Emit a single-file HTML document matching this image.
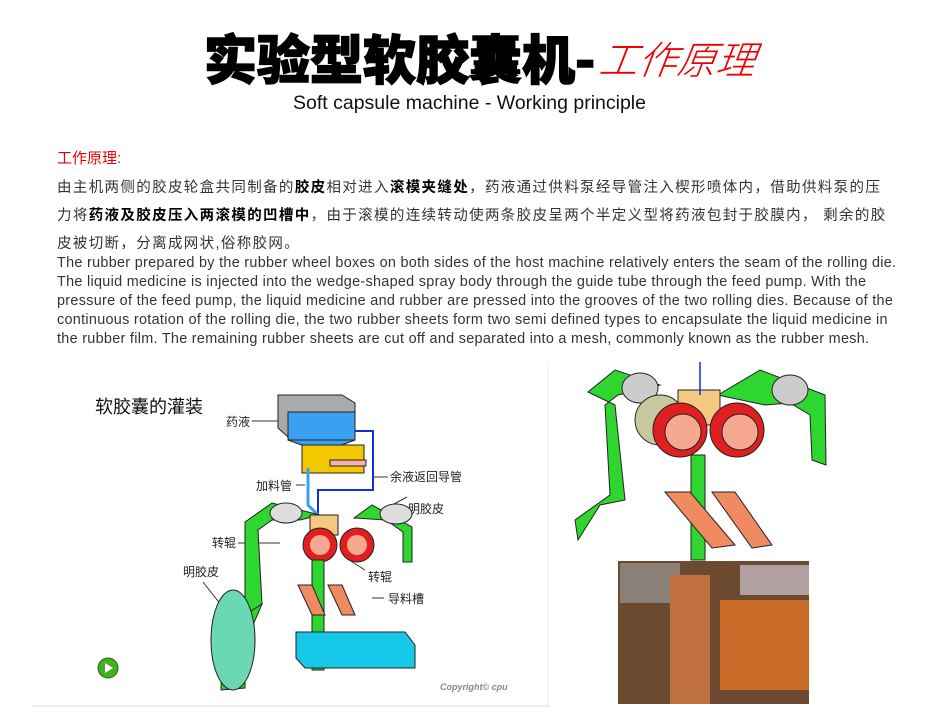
<!DOCTYPE html>
<html><head><meta charset="utf-8"><style>
body{margin:0;width:950px;height:713px;background:#fff;position:relative;overflow:hidden;font-family:"Liberation Sans","Noto Sans CJK SC",sans-serif;}
.a{position:absolute;white-space:nowrap;}
.cn{font-size:14.5px;color:#333;left:57px;letter-spacing:1.35px}
.en{font-size:14.4px;color:#333;left:57px;letter-spacing:0.3px}
b{color:#000}
</style></head><body>
<div class="a" style="left:204px;top:24px;font-size:53px;font-weight:900;color:#000;font-family:'Noto Sans CJK SC',sans-serif;line-height:66px;letter-spacing:0px;-webkit-text-stroke:1.5px #000">实验型软胶囊机-</div>
<div class="a" style="left:600px;top:33px;font-size:39px;color:#e00;font-style:italic;font-family:'Noto Sans CJK SC',sans-serif;font-weight:300;line-height:50px;transform:skewX(-8deg)">工作原理</div>
<div class="a" style="left:293px;top:92px;font-size:19.5px;color:#111;font-weight:300">Soft capsule machine - Working principle</div>

<div class="a" style="left:57px;top:147px;font-size:15px;color:#e00">工作原理:</div>
<div class="a cn" style="top:176px">由主机两侧的胶皮轮盒共同制备的<b>胶皮</b>相对进入<b>滚模夹缝处</b>，药液通过供料泵经导管注入楔形喷体内，借助供料泵的压</div>
<div class="a cn" style="top:204px">力将<b>药液及胶皮压入两滚模的凹槽中</b>，由于滚模的连续转动使两条胶皮呈两个半定义型将药液包封于胶膜内， 剩余的胶</div>
<div class="a cn" style="top:232px">皮被切断，分离成网状,俗称胶网。</div>
<div class="a en" style="top:255px">The rubber prepared by the rubber wheel boxes on both sides of the host machine relatively enters the seam of the rolling die.</div>
<div class="a en" style="top:274px">The liquid medicine is injected into the wedge-shaped spray body through the guide tube through the feed pump. With the</div>
<div class="a en" style="top:293px">pressure of the feed pump, the liquid medicine and rubber are pressed into the grooves of the two rolling dies. Because of the</div>
<div class="a en" style="top:312px">continuous rotation of the rolling die, the two rubber sheets form two semi defined types to encapsulate the liquid medicine in</div>
<div class="a en" style="top:331px">the rubber film. The remaining rubber sheets are cut off and separated into a mesh, commonly known as the rubber mesh.</div>

<svg class="a" style="left:0;top:0" width="950" height="713" viewBox="0 0 950 713">
<line x1="32" y1="706" x2="550" y2="706" stroke="#ddd"/>
<line x1="548" y1="362" x2="548" y2="706" stroke="#eee"/>
<text x="95" y="413" font-size="18" fill="#111" font-family="Noto Sans CJK SC,sans-serif">软胶囊的灌装</text>
<g font-size="12" fill="#222" font-family="Noto Sans CJK SC,sans-serif">
<text x="226" y="426">药液</text><text x="256" y="490">加料管</text><text x="390" y="481">余液返回导管</text>
<text x="408" y="513">明胶皮</text><text x="212" y="547">转辊</text><text x="368" y="581">转辊</text>
<text x="183" y="576">明胶皮</text><text x="388" y="603">导料槽</text></g>
<g stroke="#333" stroke-width="1" fill="none">
<line x1="252" y1="421" x2="300" y2="421"/><line x1="296" y1="485" x2="305" y2="485"/>
<line x1="374" y1="477" x2="388" y2="477"/><line x1="385" y1="509" x2="407" y2="497"/>
<line x1="238" y1="543" x2="280" y2="543"/><line x1="365" y1="570" x2="346" y2="558"/>
<line x1="372" y1="598" x2="384" y2="598"/><line x1="203" y1="582" x2="225" y2="610"/></g>
<polygon points="278,395 342,395 355,403 355,437 288,437 278,428" fill="#aaa" stroke="#222"/>
<rect x="288" y="412" width="67" height="28" fill="#3aa0f0" stroke="#222"/>
<polygon points="288,440 355,440 326,451 318,451" fill="#3aa0f0" stroke="#222"/>
<rect x="302" y="445" width="62" height="28" fill="#f4c800" stroke="#222"/>
<rect x="330" y="460" width="36" height="6" fill="#f4b0b0" stroke="#222"/>
<polyline points="355,431 373,431 373,490 318,490 318,518" fill="none" stroke="#1030e0" stroke-width="2"/>
<polyline points="308,468 308,505 318,515" fill="none" stroke="#3aa0f0" stroke-width="3"/>
<polygon points="245,522 272,503 320,515 300,520 272,520 258,530 262,604 245,615" fill="#2fd62f" stroke="#222"/>
<polygon points="354,518 372,505 412,527 412,562 403,562 403,532 386,520" fill="#2fd62f" stroke="#222"/>
<polygon points="245,615 262,604 253,625 222,650 221,690 245,688" fill="#2fd62f" stroke="#222"/>
<ellipse cx="233" cy="640" rx="22" ry="50" fill="#6ad8b5" stroke="#222"/>
<ellipse cx="286" cy="513" rx="16" ry="10" fill="#ddd" stroke="#222"/>
<ellipse cx="396" cy="514" rx="16" ry="10" fill="#ddd" stroke="#222"/>
<rect x="310" y="515" width="28" height="20" fill="#f4c880" stroke="#222"/>
<circle cx="320" cy="545" r="17" fill="#e02020" stroke="#222"/><circle cx="320" cy="545" r="10" fill="#f6a890"/>
<circle cx="357" cy="545" r="17" fill="#e02020" stroke="#222"/><circle cx="357" cy="545" r="10" fill="#f6a890"/>
<rect x="312" y="560" width="12" height="110" fill="#2fd62f" stroke="#222"/>
<polygon points="298,585 312,585 325,615 312,615" fill="#f08a60" stroke="#222"/>
<polygon points="328,585 342,585 355,615 342,615" fill="#f08a60" stroke="#222"/>
<polygon points="296,632 405,632 415,645 415,668 305,668 296,658" fill="#18c8e8" stroke="#222"/>
<circle cx="108" cy="668" r="10" fill="#40b020" stroke="#2a6a10"/><polygon points="105,663 113,668 105,673" fill="#fff"/>
<text x="440" y="690" font-size="9" fill="#888" font-weight="bold" font-style="italic">Copyright© cpu</text>
<g>
<polygon points="588,392 615,370 660,385 640,390 618,395 605,405 610,495 575,520 578,540 600,505 625,500 615,405" fill="#2fd62f" stroke="#222"/>
<polygon points="718,395 760,370 825,395 826,465 812,460 810,415 790,403 765,405" fill="#2fd62f" stroke="#222"/>
<ellipse cx="640" cy="388" rx="18" ry="15" fill="#ccc" stroke="#222"/>
<ellipse cx="790" cy="390" rx="18" ry="15" fill="#ccc" stroke="#222"/>
<rect x="678" y="390" width="42" height="35" fill="#f4c880" stroke="#222"/>
<line x1="700" y1="362" x2="700" y2="395" stroke="#1030e0" stroke-width="1.5"/>
<ellipse cx="660" cy="420" rx="25" ry="25" fill="#c8c8a0" stroke="#222"/>
<circle cx="680" cy="430" r="27" fill="#e02020" stroke="#222"/><circle cx="683" cy="432" r="18" fill="#f6a890" stroke="#222"/>
<circle cx="737" cy="430" r="27" fill="#e02020" stroke="#222"/><circle cx="740" cy="432" r="18" fill="#f6a890" stroke="#222"/>
<rect x="691" y="455" width="14" height="105" fill="#2fd62f" stroke="#222"/>
<polygon points="665,492 690,492 735,545 712,548" fill="#f08a60" stroke="#222"/>
<polygon points="712,492 735,492 772,545 752,548" fill="#f08a60" stroke="#222"/>
</g>
<rect x="618" y="561" width="191" height="143" fill="#6b4a30"/>
<rect x="620" y="563" width="60" height="40" fill="#8a8078"/>
<rect x="670" y="575" width="40" height="129" fill="#c07040"/>
<rect x="720" y="600" width="89" height="90" fill="#c86a28"/>
<rect x="740" y="565" width="69" height="30" fill="#b0a0a0"/>
</svg>
</body></html>
